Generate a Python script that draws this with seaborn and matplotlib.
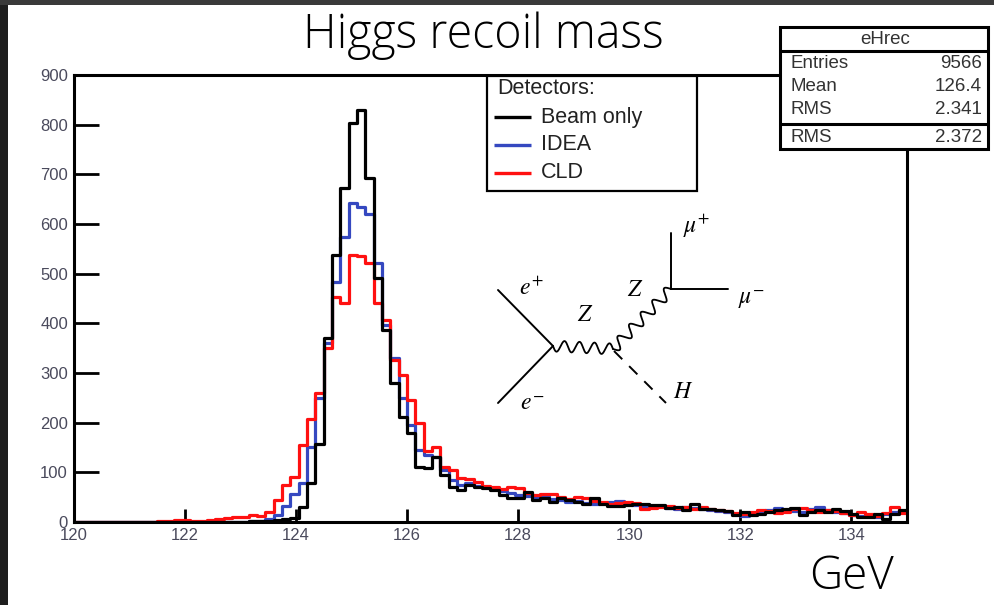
import numpy as np
import pandas as pd
import matplotlib
matplotlib.use("Agg")
import matplotlib.pyplot as plt
import seaborn as sns
from matplotlib.patches import Rectangle

# histogram: 100 bins between 120 and 135 GeV (one value per bin)
mass_lo, mass_hi, n_bins = 120.0, 135.0, 100

beam_only = [0, 0, 0, 0, 0, 0, 0, 0, 0, 0,
             0, 0, 0, 0, 0, 0, 0, 0, 0, 0,
             1, 2, 2, 3, 4, 6, 8, 30, 78, 158,
             370, 537, 672, 804, 829, 692, 491, 387, 279, 212,
             179, 111, 108, 131, 95, 71, 64, 74, 71, 68,
             64, 54, 48, 48, 61, 44, 48, 41, 48, 44,
             41, 37, 48, 37, 32, 32, 34, 37, 37, 34,
             34, 28, 30, 24, 37, 26, 26, 24, 23, 14,
             20, 14, 17, 20, 24, 26, 28, 14, 20, 24,
             20, 26, 23, 17, 10, 10, 17, 7, 17, 24]

idea = [0, 0, 0, 0, 0, 0, 0, 0, 0, 0,
        0, 0, 0, 0, 0, 0, 0, 0, 0, 0,
        1, 2, 3, 6, 15, 33, 56, 78, 152, 249,
        360, 484, 574, 642, 635, 621, 521, 397, 330, 249,
        195, 145, 135, 131, 105, 85, 75, 78, 72, 70,
        66, 62, 58, 55, 52, 50, 52, 46, 44, 40,
        42, 38, 36, 38, 40, 42, 38, 34, 32, 30,
        33, 29, 27, 30, 28, 27, 25, 22, 20, 16,
        13, 18, 21, 24, 28, 25, 22, 20, 26, 30,
        24, 20, 18, 15, 12, 14, 10, 16, 20, 22]

cld = [0, 0, 0, 0, 0, 0, 0, 0, 0, 0,
       2, 3, 4, 5, 3, 2, 4, 7, 9, 10,
       10, 15, 12, 20, 44, 74, 91, 155, 207, 260,
       350, 454, 440, 537, 535, 521, 440, 407, 326, 296,
       246, 199, 142, 152, 111, 105, 88, 86, 80, 72,
       70, 66, 70, 68, 58, 54, 57, 56, 50, 46,
       50, 48, 42, 40, 36, 38, 40, 38, 26, 28,
       30, 32, 28, 31, 26, 30, 27, 25, 22, 18,
       16, 20, 24, 22, 18, 20, 26, 28, 24, 21,
       24, 22, 18, 14, 20, 16, 12, 18, 30, 18]

detectors = ["Beam only", "IDEA", "CLD"]
det_colors = {"Beam only": "#000000", "IDEA": "#3548c0", "CLD": "#ff1010"}

stats_name = "eHrec"
stats_rows = [("Entries", "9566"), ("Mean", "126.4"), ("RMS", "2.341")]
stats_extra = ("RMS", "2.372")

edges = np.linspace(mass_lo, mass_hi, n_bins + 1)
centers = (edges[:-1] + edges[1:]) / 2
df = pd.DataFrame({
    "mass": np.tile(centers, 3),
    "count": beam_only + idea + cld,
    "detector": np.repeat(detectors, n_bins),
})

sns.set_theme(style="white")
plt.rcParams["font.family"] = ["Liberation Sans", "DejaVu Sans"]
plt.rcParams["mathtext.fontset"] = "stix"

W, H = 994, 605
fig = plt.figure(figsize=(W / 100, H / 100), dpi=100)
fig.patch.set_facecolor("white")

# main frame, in pixel terms of the reference
x0, x1, ytop, ybot = 73.5, 907, 75, 522
ax = fig.add_axes([x0 / W, 1 - ybot / H, (x1 - x0) / W, (ybot - ytop) / H])

# blue under red under black, like the reference
for det in ["IDEA", "CLD", "Beam only"]:
    sns.histplot(data=df[df["detector"] == det], x="mass", weights="count",
                 bins=n_bins, binrange=(mass_lo, mass_hi), element="step", fill=False,
                 color=det_colors[det], linewidth=2.3, ax=ax)

ax.set_xlim(mass_lo, mass_hi)
ax.set_ylim(0, 900)
ax.set_xlabel("")
ax.set_ylabel("")
ax.set_xticks(np.arange(120, 135, 2))
ax.set_xticks(np.arange(120, 135.01, 0.5), minor=True)
ax.set_yticks(np.arange(0, 901, 100))
ax.set_yticks(np.arange(0, 901, 20), minor=True)
lab_col = "#4a4a5c"
ax.tick_params(axis="y", which="major", direction="in", length=18, width=2,
               color="black", labelcolor=lab_col, labelsize=12, pad=4)
ax.tick_params(axis="y", which="minor", direction="in", length=9, width=2, color="black")
ax.tick_params(axis="x", which="major", direction="in", length=9.5, width=2,
               color="black", labelcolor=lab_col, labelsize=12, pad=4)
ax.tick_params(axis="x", which="minor", direction="in", length=5, width=2, color="black")
ax.tick_params(left=True, bottom=True)
for s in ax.spines.values():
    s.set_linewidth(2.2)
    s.set_color("black")

# overlay in pixel coords for slide decorations
ov = fig.add_axes([0, 0, 1, 1], zorder=5)
ov.set_xlim(0, W)
ov.set_ylim(H, 0)
ov.axis("off")
ov.patch.set_alpha(0)

# dark screenshot edges
ov.add_patch(Rectangle((0, 0), 8, H, color="#1e1e1e", lw=0))
ov.add_patch(Rectangle((0, 0), W, 5, color="#3a3a3a", lw=0))

ov.text(483, 48, "Higgs recoil mass", ha="center", va="baseline",
        fontsize=33.5, family="Open Sans", fontweight="light", color="#000000")
ov.text(852, 589, "GeV", ha="center", va="baseline",
        fontsize=33, family="Open Sans", fontweight="light", color="#000000")

# legend box
ov.add_patch(Rectangle((487, 76), 210, 115, facecolor="white", edgecolor="black", lw=1.6))
ov.text(497, 89, "Detectors:", ha="left", va="center", fontsize=15.5, color="#222222")
for i, det in enumerate(detectors):
    yy = 117 + 28 * i
    ov.plot([494, 531], [yy, yy], color=det_colors[det], lw=2.4, solid_capstyle="butt")
    ov.text(541, yy, det, ha="left", va="center", fontsize=15.5, color="#222222")

# stats box
ov.add_patch(Rectangle((780, 27), 208, 122, facecolor="white", edgecolor="black", lw=2.2))
ov.plot([780, 988], [51, 51], color="black", lw=2.2)
ov.plot([780, 988], [124, 124], color="black", lw=2.2)
ov.text(885, 39, stats_name, ha="center", va="center", fontsize=13.5, color="#333333")
for i, (k, v) in enumerate(stats_rows):
    yy = 63 + 23.5 * i
    ov.text(790, yy, k, ha="left", va="center", fontsize=13.5, color="#333333")
    ov.text(982, yy, v, ha="right", va="center", fontsize=13.5, color="#333333")
ov.text(790, 137, stats_extra[0], ha="left", va="center", fontsize=13.5, color="#333333")
ov.text(982, 137, stats_extra[1], ha="right", va="center", fontsize=13.5, color="#333333")


# Feynman diagram e+e- -> ZH, Z -> mu mu
def wavy(p0, p1, n_waves, amp):
    p0, p1 = np.array(p0, float), np.array(p1, float)
    t = np.linspace(0, 1, 300)
    d = p1 - p0
    nrm = np.array([-d[1], d[0]]) / np.hypot(*d)
    pts = p0[None, :] + t[:, None] * d[None, :] + amp * np.sin(2 * np.pi * n_waves * t)[:, None] * nrm[None, :]
    ov.plot(pts[:, 0], pts[:, 1], color="black", lw=1.3)


ov.plot([498, 553], [290, 346], color="black", lw=1.4)
ov.plot([553, 498], [346, 403], color="black", lw=1.4)
wavy((553, 346), (613, 349), 4, 5.5)
wavy((613, 349), (671, 289), 5, 5.5)
ov.plot([614, 666], [351, 403], color="black", lw=1.4, linestyle=(0, (6, 5)))
ov.plot([671, 671], [289, 233], color="black", lw=1.4)
ov.plot([671, 728], [289, 289], color="black", lw=1.4)

fk = dict(ha="center", va="center", fontsize=17, color="black")
ov.text(531, 289, r"$e^{+}$", **fk)
ov.text(532, 404, r"$e^{-}$", **fk)
ov.text(585, 315, r"$Z$", **fk)
ov.text(635, 290, r"$Z$", **fk)
ov.text(697, 226, r"$\mu^{+}$", **fk)
ov.text(751, 300, r"$\mu^{-}$", **fk)
ov.text(683, 392, r"$H$", **fk)

fig.savefig("out.png", dpi=100)
